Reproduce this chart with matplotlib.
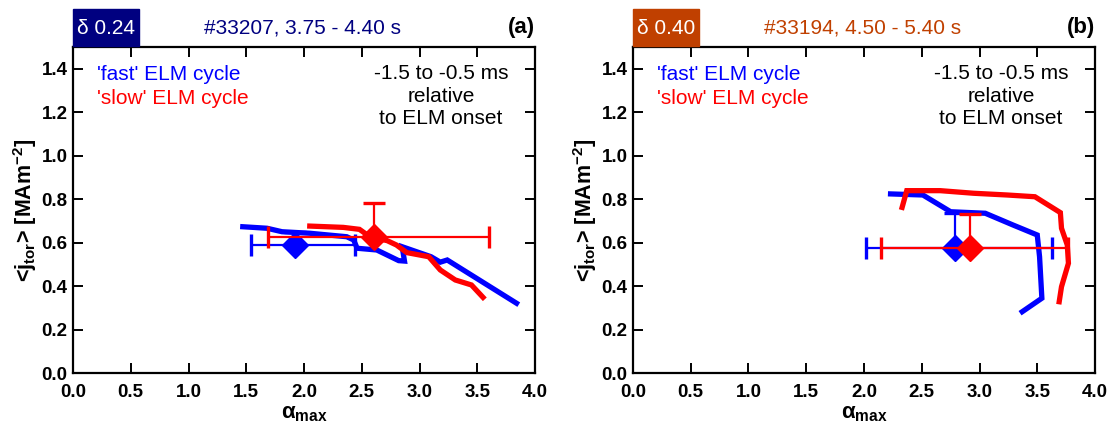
import matplotlib
matplotlib.use("Agg")
import matplotlib.pyplot as plt
from matplotlib.patches import Rectangle

plt.rcParams['font.family'] = ['Liberation Sans', 'DejaVu Sans']
plt.rcParams['mathtext.default'] = 'regular'

# ---- data: panel (a), #33207, delta 0.24 ----
a_fast_x = [1.47, 1.68, 1.81, 2.05, 2.37, 2.43, 2.46, 2.63, 2.82, 2.87, 2.85, 3.10, 3.18, 3.24, 3.84]
a_fast_y = [0.673, 0.666, 0.650, 0.643, 0.627, 0.612, 0.574, 0.566, 0.517, 0.515, 0.581, 0.535, 0.510, 0.520, 0.321]
a_slow_x = [2.05, 2.34, 2.48, 2.57, 2.72, 2.80, 2.89, 3.08, 3.18, 3.31, 3.45, 3.55]
a_slow_y = [0.676, 0.670, 0.661, 0.627, 0.609, 0.589, 0.554, 0.535, 0.474, 0.428, 0.405, 0.348]
a_fast_mean = (1.92, 0.59)
a_fast_xerr = (0.38, 0.525)
a_fast_yerr = 0.06
a_slow_mean = (2.61, 0.625)
a_slow_xerr = (0.92, 0.99)
a_slow_yerr = 0.155

# ---- data: panel (b), #33194, delta 0.40 ----
b_fast_x = [2.23, 2.51, 2.75, 3.05, 3.29, 3.50, 3.52, 3.54, 3.37]
b_fast_y = [0.824, 0.819, 0.742, 0.735, 0.681, 0.635, 0.535, 0.344, 0.282]
b_slow_x = [2.33, 2.37, 2.66, 2.95, 3.24, 3.48, 3.70, 3.71, 3.76, 3.77, 3.71, 3.69]
b_slow_y = [0.762, 0.839, 0.839, 0.827, 0.819, 0.811, 0.738, 0.666, 0.589, 0.505, 0.397, 0.328]
b_fast_mean = (2.79, 0.577)
b_fast_xerr = (0.77, 0.84)
b_fast_yerr = 0.16
b_slow_mean = (2.92, 0.577)
b_slow_xerr = (0.77, 0.85)
b_slow_yerr = 0.155

x_ticks = [0.0, 0.5, 1.0, 1.5, 2.0, 2.5, 3.0, 3.5, 4.0]
y_ticks = [0.0, 0.2, 0.4, 0.6, 0.8, 1.0, 1.2, 1.4]

panels = [
    dict(tag='(a)', delta='δ 0.24', shot='#33207, 3.75 - 4.40 s', col='#000080',
         fx=a_fast_x, fy=a_fast_y, sx=a_slow_x, sy=a_slow_y,
         fm=a_fast_mean, fxe=a_fast_xerr, fye=a_fast_yerr,
         sm=a_slow_mean, sxe=a_slow_xerr, sye=a_slow_yerr, left=73),
    dict(tag='(b)', delta='δ 0.40', shot='#33194, 4.50 - 5.40 s', col='#C04000',
         fx=b_fast_x, fy=b_fast_y, sx=b_slow_x, sy=b_slow_y,
         fm=b_fast_mean, fxe=b_fast_xerr, fye=b_fast_yerr,
         sm=b_slow_mean, sxe=b_slow_xerr, sye=b_slow_yerr, left=633),
]

W, H = 1110, 423
fig = plt.figure(figsize=(W / 100, H / 100), dpi=100)

ax_w, ax_top, ax_bot = 462, 47, 373
for p in panels:
    ax = fig.add_axes([p['left'] / W, (H - ax_bot) / H, ax_w / W, (ax_bot - ax_top) / H])

    ax.plot(p['fx'], p['fy'], color='#0000FF', lw=3.8, solid_joinstyle='miter', zorder=2)
    ax.plot(p['sx'], p['sy'], color='#FF0000', lw=3.8, solid_joinstyle='miter', zorder=3)

    # mean values with error bars; the fast-cycle bars sit beneath the traces
    for (m, xe, ye, c, ze, zm) in [(p['fm'], p['fxe'], p['fye'], '#0000FF', 1.5, 4),
                                   (p['sm'], p['sxe'], p['sye'], '#FF0000', 5, 5)]:
        ax.errorbar([m[0]], [m[1]], xerr=[[xe[0]], [xe[1]]], yerr=[[0], [ye]],
                    fmt='none', ecolor=c, elinewidth=1.6, capsize=8, capthick=2.4, zorder=ze)
        ax.plot([m[0]], [m[1]], marker='D', ms=13, color=c, mec=c, zorder=zm)

    ax.set_xlim(0, 4)
    ax.set_ylim(0, 1.5)
    ax.set_xticks(x_ticks)
    ax.set_yticks(y_ticks)
    ax.set_xticklabels([f'{v:.1f}' for v in x_ticks])
    ax.set_yticklabels([f'{v:.1f}' for v in y_ticks])
    ax.tick_params(direction='in', length=7, width=1.4, top=True, right=True,
                   labelsize=13.5, pad=4)
    ax.tick_params(axis='x', pad=8)
    for lab in ax.get_xticklabels() + ax.get_yticklabels():
        lab.set_fontweight('bold')
    for s in ax.spines.values():
        s.set_linewidth(1.6)

    ax.set_xlabel(r'$\alpha_{max}$', fontsize=16, fontweight='bold', labelpad=1)
    ax.set_ylabel(r'<j$_{tor}$> [MAm$^{-2}$]', fontsize=15.5, fontweight='bold', labelpad=2)

    ax.text(0.052, 0.915, "'fast' ELM cycle", transform=ax.transAxes, color='#0000FF',
            fontsize=15, ha='left', va='center')
    ax.text(0.052, 0.842, "'slow' ELM cycle", transform=ax.transAxes, color='#FF0000',
            fontsize=15, ha='left', va='center')
    ax.text(0.942, 0.948, '-1.5 to -0.5 ms\nrelative\nto ELM onset', transform=ax.transAxes,
            color='black', fontsize=15, ha='right', va='top', multialignment='center',
            linespacing=1.25)

    # header row above the axes
    fig.patches.append(Rectangle((p['left'] / W, (H - 46) / H), 66 / W, 37 / H,
                                 transform=fig.transFigure, color=p['col'], zorder=1))
    fig.text((p['left'] + 33) / W, (H - 28) / H, p['delta'], color='white', fontsize=15,
             ha='center', va='center')
    fig.text((p['left'] + 230) / W, (H - 28) / H, p['shot'], color=p['col'], fontsize=15,
             ha='center', va='center')
    fig.text((p['left'] + ax_w) / W, (H - 28) / H, p['tag'], color='black', fontsize=16,
             fontweight='bold', ha='right', va='center')

fig.savefig('out.png', dpi=100)
